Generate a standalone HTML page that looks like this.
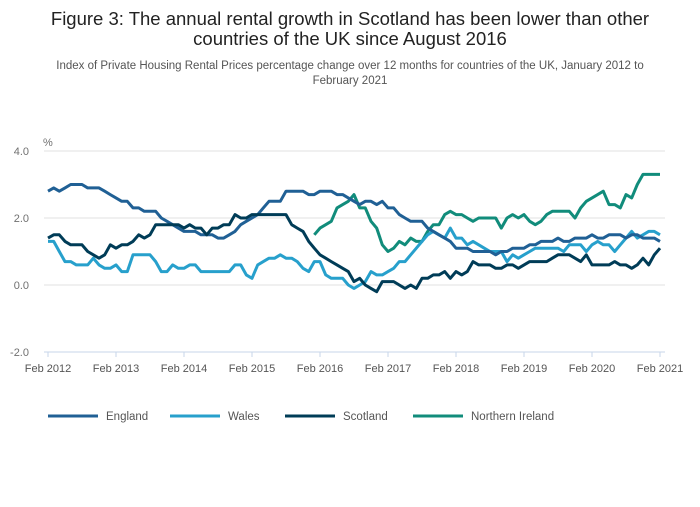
<!DOCTYPE html>
<html><head><meta charset="utf-8"><style>
body{margin:0;background:#fff;font-family:"Liberation Sans",sans-serif;}
svg text{font-family:"Liberation Sans",sans-serif;}
</style></head><body>
<svg id="chart" width="700" height="502" viewBox="0 0 700 502">
<text x="350" y="25" font-size="18.5" fill="#222" text-anchor="middle">Figure 3: The annual rental growth in Scotland has been lower than other</text>
<text x="350" y="45" font-size="18.5" fill="#222" text-anchor="middle">countries of the UK since August 2016</text>
<text x="350" y="69" font-size="11.5" fill="#555" text-anchor="middle">Index of Private Housing Rental Prices percentage change over 12 months for countries of the UK, January 2012 to</text>
<text x="350" y="84" font-size="11.5" fill="#555" text-anchor="middle">February 2021</text>
<text x="43" y="146" font-size="11" fill="#707070">%</text>
<g id="grid"></g><g id="series"></g><g id="legend"></g>
</svg>
<script>
const yTicks=[4,2,0,-2];
const xLabels=["Feb 2012","Feb 2013","Feb 2014","Feb 2015","Feb 2016","Feb 2017","Feb 2018","Feb 2019","Feb 2020","Feb 2021"];
const seriesNames=["England","Wales","Scotland","Northern Ireland"];
const england=[2.8,2.9,2.8,2.9,3.0,3.0,3.0,2.9,2.9,2.9,2.8,2.7,
2.6,2.5,2.5,2.3,2.3,2.2,2.2,2.2,2.0,1.9,1.8,1.7,
1.6,1.6,1.6,1.5,1.5,1.5,1.4,1.4,1.5,1.6,1.8,1.9,
2.0,2.1,2.3,2.5,2.5,2.5,2.8,2.8,2.8,2.8,2.7,2.7,
2.8,2.8,2.8,2.7,2.7,2.6,2.5,2.4,2.5,2.5,2.4,2.5,
2.3,2.3,2.1,2.0,1.9,1.9,1.9,1.7,1.6,1.5,1.4,1.3,
1.1,1.1,1.1,1.0,1.0,1.0,1.0,0.9,1.0,1.0,1.1,1.1,
1.1,1.2,1.2,1.3,1.3,1.3,1.4,1.3,1.3,1.4,1.4,1.4,
1.5,1.4,1.4,1.5,1.5,1.5,1.4,1.5,1.5,1.4,1.4,1.4,1.3];
const wales=[1.3,1.3,1.0,0.7,0.7,0.6,0.6,0.6,0.8,0.6,0.5,0.5,
0.6,0.4,0.4,0.9,0.9,0.9,0.9,0.7,0.4,0.4,0.6,0.5,
0.5,0.6,0.6,0.4,0.4,0.4,0.4,0.4,0.4,0.6,0.6,0.3,
0.2,0.6,0.7,0.8,0.8,0.9,0.8,0.8,0.7,0.5,0.4,0.7,
0.7,0.3,0.2,0.2,0.2,0.0,-0.1,0.0,0.1,0.4,0.3,0.3,
0.4,0.5,0.7,0.7,0.9,1.1,1.3,1.5,1.6,1.5,1.4,1.7,
1.4,1.4,1.2,1.3,1.2,1.1,1.0,1.0,1.0,0.7,0.9,0.8,
0.9,1.0,1.1,1.1,1.1,1.1,1.1,1.0,1.2,1.2,1.2,1.0,
1.2,1.3,1.2,1.2,1.0,1.2,1.4,1.6,1.4,1.5,1.6,1.6,1.5];
const scotland=[1.4,1.5,1.5,1.3,1.2,1.2,1.2,1.0,0.9,0.8,0.9,1.2,
1.1,1.2,1.2,1.3,1.5,1.4,1.5,1.8,1.8,1.8,1.8,1.8,
1.7,1.8,1.7,1.7,1.5,1.7,1.7,1.8,1.8,2.1,2.0,2.0,
2.1,2.1,2.1,2.1,2.1,2.1,2.1,1.8,1.7,1.6,1.3,1.1,
0.9,0.8,0.7,0.6,0.5,0.4,0.1,0.2,0.0,-0.1,-0.2,0.1,
0.1,0.1,0.0,-0.1,0.0,-0.1,0.2,0.2,0.3,0.3,0.4,0.2,
0.4,0.3,0.4,0.7,0.6,0.6,0.6,0.5,0.5,0.6,0.6,0.5,
0.6,0.7,0.7,0.7,0.7,0.8,0.9,0.9,0.9,0.8,0.7,0.9,
0.6,0.6,0.6,0.6,0.7,0.6,0.6,0.5,0.6,0.8,0.6,0.9,1.1];
const niStart=47;
const northernIreland=[1.5,1.7,1.8,1.9,2.3,2.4,2.5,2.7,2.3,2.3,1.9,1.7,
1.2,1.0,1.1,1.3,1.2,1.4,1.3,1.3,1.6,1.8,1.8,2.1,
2.2,2.1,2.1,2.0,1.9,2.0,2.0,2.0,2.0,1.7,2.0,2.1,
2.0,2.1,1.9,1.8,1.9,2.1,2.2,2.2,2.2,2.2,2.0,2.3,
2.5,2.6,2.7,2.8,2.4,2.4,2.3,2.7,2.6,3.0,3.3,3.3,3.3,3.3];
const colors=["#206095","#27a0cc","#003c57","#118c7b"];
const NS="http://www.w3.org/2000/svg";
const x0=48,x1=660,nMonths=108;
const xs=i=>x0+(x1-x0)*i/nMonths;
const ys=v=>285-v*33.5;
function mk(tag,attrs,parent){const e=document.createElementNS(NS,tag);for(const k in attrs)e.setAttribute(k,attrs[k]);parent.appendChild(e);return e;}
const grid=document.getElementById('grid');
yTicks.forEach((t,i)=>{
 const last=i===yTicks.length-1;
 const l=mk('line',{x1:44,x2:665,y1:ys(t),y2:ys(t),stroke:last?'#c7d6ea':'#e0e0e0','stroke-width':1},grid);
 
 
 const tx=mk('text',{x:29,y:ys(t)+4,'font-size':11,fill:'#707070','text-anchor':'end'},grid);
 tx.textContent=t.toFixed(1);
 
 
});
xLabels.forEach((lab,i)=>{
 const x=xs(i*12);
 const tk=mk('line',{x1:x,x2:x,y1:352,y2:357,stroke:'#c7d6ea'},grid);
 
 
 const tx=mk('text',{x:x,y:372,'font-size':11,fill:'#555','text-anchor':'middle'},grid);
 tx.textContent=lab;
 
 
});
const ser=document.getElementById('series');
function draw(data,start,color,name){
 const pts=data.map((v,i)=>xs(start+i).toFixed(1)+','+ys(v).toFixed(1)).join(' ');
 const p=mk('polyline',{points:pts,fill:'none',stroke:color,'stroke-width':3,'stroke-linejoin':'round'},ser);
 
 
}
draw(northernIreland,niStart,colors[3],'northern-ireland');
draw(wales,0,colors[1],'wales');
draw(england,0,colors[0],'england');
draw(scotland,0,colors[2],'scotland');
const leg=document.getElementById('legend');
const lx=[48,170,285,413];
seriesNames.forEach((n,i)=>{
 const g=mk('g',{},leg);
 
 
 mk('line',{x1:lx[i],x2:lx[i]+50,y1:416,y2:416,stroke:colors[i],'stroke-width':3},g);
 const t=mk('text',{x:lx[i]+58,y:420,'font-size':11.5,fill:'#555'},g);
 t.textContent=n;
});
</script>
</body></html>
